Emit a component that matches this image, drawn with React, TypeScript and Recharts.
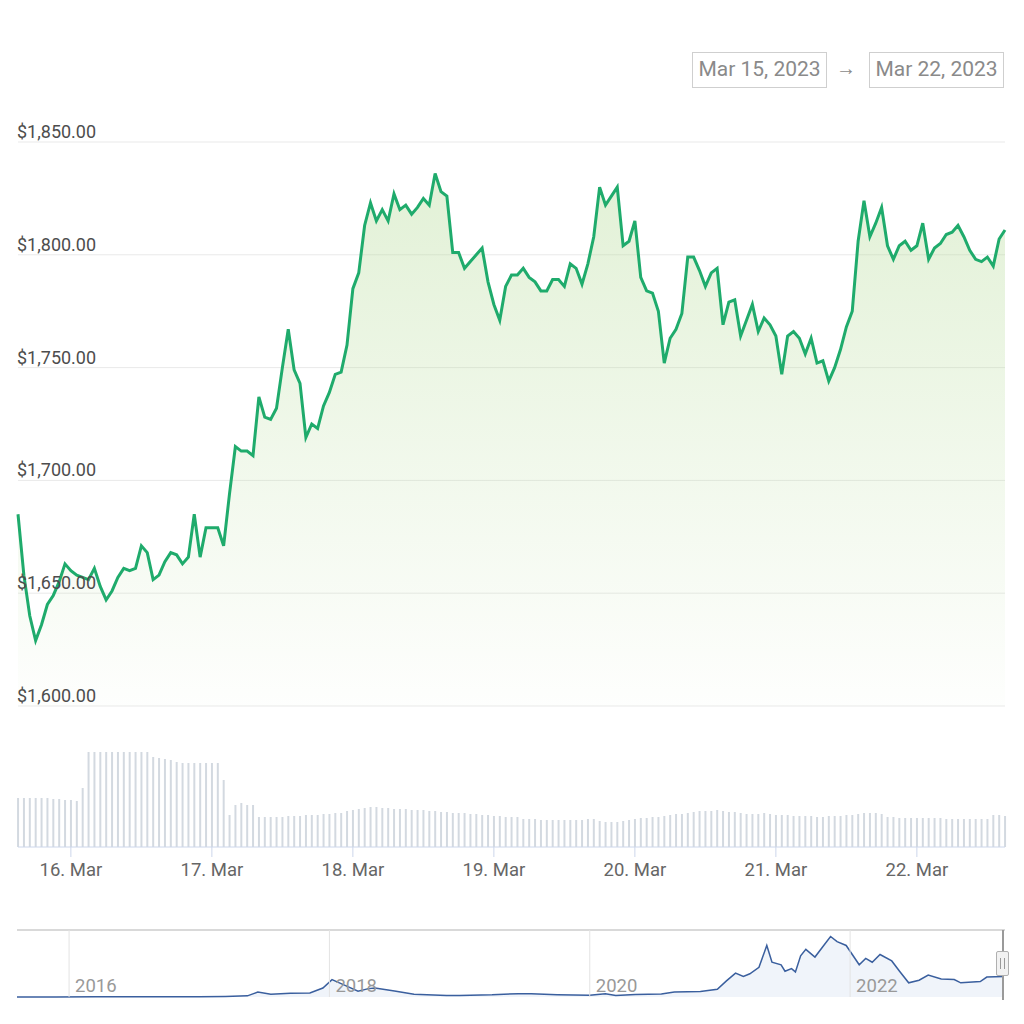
import { AreaChart, Area, XAxis, YAxis, CartesianGrid, BarChart, Bar, ReferenceLine } from 'recharts';

// hourly ETH price, 15 Mar 15:00 -> 22 Mar 15:00
const prices = [
  1685, 1658, 1640, 1629, 1636, 1645, 1649, 1655, 1663, 1660,
  1658, 1657, 1656, 1661, 1653, 1647, 1651, 1657, 1661, 1660,
  1661, 1671, 1668, 1656, 1658, 1664, 1668, 1667, 1663, 1666,
  1685, 1666, 1679, 1679, 1679, 1671, 1694, 1715, 1713, 1713,
  1711, 1737, 1728, 1727, 1732, 1750, 1767, 1749, 1743, 1719,
  1725, 1723, 1733, 1739, 1747, 1748, 1760, 1785, 1792, 1813,
  1823, 1815, 1820, 1815, 1827, 1820, 1822, 1818, 1821, 1825,
  1822, 1836, 1828, 1826, 1801, 1801, 1794, 1797, 1800, 1803,
  1788, 1778, 1771, 1786, 1791, 1791, 1794, 1790, 1788, 1784,
  1784, 1789, 1789, 1786, 1796, 1794, 1787, 1796, 1808, 1830,
  1822, 1826, 1830, 1804, 1806, 1815, 1790, 1784, 1783, 1775,
  1752, 1763, 1767, 1774, 1799, 1799, 1793, 1786, 1792, 1794,
  1769, 1779, 1780, 1764, 1771, 1778, 1766, 1772, 1769, 1764,
  1747, 1764, 1766, 1763, 1756, 1763, 1752, 1753, 1744, 1750,
  1758, 1768, 1775, 1806, 1824, 1808, 1814, 1821, 1804, 1798,
  1804, 1806, 1802, 1804, 1814, 1798, 1803, 1805, 1809, 1810,
  1813, 1808, 1802, 1798, 1797, 1799, 1795, 1807, 1811,
];

const volumes = [
  49, 49, 49, 49, 49, 49, 48, 48, 47, 47,
  46, 59, 95, 95, 95, 95, 95, 95, 95, 95,
  95, 95, 95, 90, 89, 88, 87, 85, 84, 84,
  84, 84, 84, 84, 84, 67, 32, 42, 44, 42,
  42, 30, 30, 30, 30, 30, 31, 31, 31, 32,
  32, 32, 33, 33, 34, 34, 36, 37, 38, 39,
  40, 40, 39, 39, 38, 38, 38, 37, 37, 37,
  36, 36, 35, 35, 34, 34, 34, 33, 33, 32,
  32, 31, 31, 30, 30, 30, 28, 28, 28, 27,
  27, 27, 27, 27, 27, 27, 27, 28, 28, 26,
  25, 25, 25, 26, 27, 28, 29, 29, 30, 30,
  31, 32, 33, 33, 34, 35, 36, 36, 36, 37,
  36, 35, 35, 34, 33, 33, 33, 34, 33, 32,
  32, 32, 31, 31, 31, 31, 30, 30, 31, 31,
  31, 32, 32, 33, 34, 34, 34, 33, 30, 30,
  29, 29, 29, 29, 29, 29, 29, 29, 28, 28,
  28, 28, 28, 28, 28, 28, 32, 32, 31,
];

const dayTicks = [9, 33, 57, 81, 105, 129, 153];
const dayLabels = ['16. Mar', '17. Mar', '18. Mar', '19. Mar', '20. Mar', '21. Mar', '22. Mar'];
const priceTicks = [1600, 1650, 1700, 1750, 1800, 1850];

// navigator: full history
const navYears = [
  2015.6, 2015.9, 2016.2, 2016.5, 2016.8, 2017.0, 2017.2, 2017.37, 2017.45, 2017.55,
  2017.7, 2017.85, 2017.95, 2018.02, 2018.12, 2018.22, 2018.3, 2018.35, 2018.5, 2018.65,
  2018.9, 2019.0, 2019.25, 2019.45, 2019.55, 2019.75, 2020.0, 2020.12, 2020.2, 2020.35,
  2020.55, 2020.65, 2020.85, 2020.98, 2021.05, 2021.12, 2021.18, 2021.23, 2021.3, 2021.36,
  2021.4, 2021.47, 2021.5, 2021.55, 2021.58, 2021.62, 2021.66, 2021.73, 2021.79, 2021.85,
  2021.9, 2021.97, 2022.07, 2022.12, 2022.17, 2022.23, 2022.32, 2022.38, 2022.45, 2022.53,
  2022.6, 2022.7, 2022.8, 2022.85, 2023.0, 2023.05, 2023.18,
];
const navPrices = [
  1, 1, 10, 14, 12, 10, 45, 90, 380, 220,
  300, 310, 700, 1350, 900, 450, 650, 700, 460, 220,
  110, 120, 170, 260, 250, 180, 130, 260, 110, 200,
  240, 380, 430, 600, 1250, 1850, 1600, 1800, 2300, 4000,
  2700, 2500, 2000, 2200, 1950, 3200, 3700, 3100, 3900, 4700,
  4300, 4000, 2500, 3000, 2700, 3300, 2800, 2000, 1100, 1300,
  1700, 1400, 1350, 1100, 1200, 1550, 1600,
];
const yearTicks = [2016, 2018, 2020, 2022];

const priceData = prices.map((price, i) => ({ i, price }));
const volumeData = volumes.map((vol, i) => ({ i, vol }));
const navData = navYears.map((t, k) => ({ t, p: navPrices[k] }));

const font = 'Roboto, "Noto Sans", sans-serif';

const renderPriceTick = (props: any) => {
  const { y, payload } = props;
  const label = '$' + Number(payload.value).toLocaleString('en-US', { minimumFractionDigits: 2 });
  return (
    <text key={payload.value} x={17} y={y - 4} fill="#4d4d4d" fontSize={18} fontFamily={font} textAnchor="start">
      {label}
    </text>
  );
};

const dateBox = (left: number, text: string) => (
  <div
    style={{
      position: 'absolute', left, top: 52, width: 135, height: 36, boxSizing: 'border-box',
      border: '1.5px solid #cfcfcf', color: '#8a8a8a', fontFamily: font, fontSize: 21,
      lineHeight: '33px', textAlign: 'center',
    }}
  >
    {text}
  </div>
);

export default function App() {
  return (
    <div style={{ position: 'absolute', left: 0, top: 0, width: 1024, height: 1024, background: '#fff' }}>
      {dateBox(692, 'Mar 15, 2023')}
      <div style={{ position: 'absolute', left: 836, top: 56, color: '#8a8a8a', fontFamily: font, fontSize: 20 }}>→</div>
      {dateBox(869, 'Mar 22, 2023')}

      <div style={{ position: 'absolute', left: 0, top: 0 }}>
        <AreaChart width={1024} height={720} data={priceData} margin={{ top: 142, right: 19, bottom: 14, left: 0 }}>
          <defs>
            <linearGradient id="priceFill" x1="0" y1="0" x2="0" y2="1">
              <stop offset="0%" stopColor="#b5db97" stopOpacity={0.65} />
              <stop offset="100%" stopColor="#b5db97" stopOpacity={0.03} />
            </linearGradient>
          </defs>
          <CartesianGrid vertical={false} stroke="#e9e9e9" />
          <XAxis type="number" dataKey="i" domain={[0, 168]} hide />
          <YAxis
            domain={[1600, 1850]}
            ticks={priceTicks}
            width={18}
            axisLine={false}
            tickLine={false}
            tick={renderPriceTick}
          />
          <Area
            type="linear"
            dataKey="price"
            stroke="#1fab6c"
            strokeWidth={3}
            fill="url(#priceFill)"
            isAnimationActive={false}
            dot={false}
          />
        </AreaChart>
      </div>

      <div style={{ position: 'absolute', left: 0, top: 740 }}>
        <BarChart width={1024} height={160} data={volumeData} margin={{ top: 7, right: 19, bottom: 13, left: 18 }}>
          <XAxis
            type="number"
            dataKey="i"
            domain={[0, 168]}
            ticks={dayTicks}
            tickFormatter={(v: number) => dayLabels[dayTicks.indexOf(v)]}
            height={40}
            axisLine={{ stroke: '#ccd6eb' }}
            tickLine={{ stroke: '#ccd6eb' }}
            tickSize={10}
            tickMargin={6}
            tick={{ fill: '#666', fontSize: 18.5, fontFamily: font }}
          />
          <YAxis domain={[0, 100]} hide />
          <Bar dataKey="vol" fill="#d3d9e0" barSize={2} isAnimationActive={false} />
        </BarChart>
      </div>

      <div style={{ position: 'absolute', left: 0, top: 925 }}>
        <AreaChart width={1024} height={80} data={navData} margin={{ top: 5, right: 19, bottom: 8, left: 17 }}>
          <XAxis type="number" dataKey="t" domain={[2015.6, 2023.19]} hide />
          <YAxis domain={[0, 5200]} hide />
          <ReferenceLine y={5200} stroke="#cccccc" strokeWidth={1.5} />
          {yearTicks.map((yr) => (
            <ReferenceLine
              key={yr}
              x={yr}
              stroke="#e3e3e3"
              label={(p: any) => (
                <text x={p.viewBox.x + 6} y={p.viewBox.y + p.viewBox.height - 5} fill="#999" fontSize={18.5} fontFamily={font}>
                  {yr}
                </text>
              )}
            />
          ))}
          <Area
            type="linear"
            dataKey="p"
            stroke="#3a5f9e"
            strokeWidth={1.5}
            fill="#dde7f3"
            fillOpacity={0.45}
            isAnimationActive={false}
            dot={false}
          />
        </AreaChart>
      </div>

      <div style={{ position: 'absolute', left: 1002, top: 930, width: 2, height: 70, background: '#9a9a9a' }} />
      <div
        style={{
          position: 'absolute', left: 996, top: 951, width: 13, height: 25, boxSizing: 'border-box',
          background: '#f2f2f2', border: '1px solid #b0b0b0', borderRadius: 2,
        }}
      >
        <div style={{ position: 'absolute', left: 3, top: 6, width: 1, height: 11, background: '#999' }} />
        <div style={{ position: 'absolute', left: 7, top: 6, width: 1, height: 11, background: '#999' }} />
      </div>
    </div>
  );
}
